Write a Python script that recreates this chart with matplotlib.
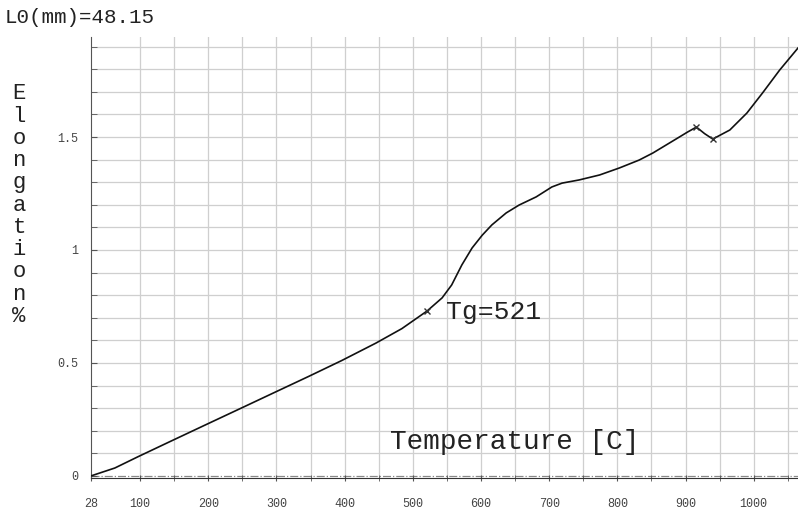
import numpy as np
import matplotlib
matplotlib.use("Agg")
import matplotlib.pyplot as plt

plt.rcParams['font.family'] = ['Liberation Mono', 'DejaVu Sans Mono']

# dilatometer curve
temp = [28, 63, 97, 146, 196, 249, 299, 347, 396, 446, 484, 521,
        543, 557, 572, 587, 602, 616, 637, 656, 681, 704, 719, 744, 774,
        803, 832, 852, 891, 903, 916, 928, 940, 965, 990, 1013, 1038, 1065]
elong = [0.0, 0.035, 0.085, 0.155, 0.226, 0.301, 0.372, 0.440, 0.511, 0.588, 0.652, 0.730,
         0.788, 0.845, 0.934, 1.009, 1.066, 1.111, 1.164, 1.199, 1.235, 1.279, 1.296, 1.310, 1.332,
         1.363, 1.398, 1.429, 1.500, 1.522, 1.544, 1.515, 1.491, 1.531, 1.606, 1.695, 1.796, 1.894]

# marked points
mark_t = [521, 916, 940]
mark_e = [0.73, 1.544, 1.491]

xticks = [28, 100, 200, 300, 400, 500, 600, 700, 800, 900, 1000]
yticks = [0, 0.5, 1, 1.5]
ytick_labels = ["0", "0.5", "1", "1.5"]

fig = plt.figure(figsize=(7.98, 5.09), dpi=100)
ax = fig.add_axes([0.114, 0.061, 0.886, 0.866])

ax.set_xlim(28, 1065)
ax.set_ylim(-0.009, 1.942)

# grid
for gx in np.arange(100, 1065, 50):
    ax.axvline(gx, color="#cfcfcf", lw=0.9, zorder=0)
for gy in np.arange(0.1, 1.95, 0.1):
    ax.axhline(gy, color="#cfcfcf", lw=0.9, zorder=0)

ax.axhline(0.0, color="#888888", lw=0.9, ls="-.", zorder=1)

ax.plot(temp, elong, color="#111111", lw=1.2, zorder=3)
ax.plot(mark_t, mark_e, ls="none", marker="x", ms=4, mew=1.0, color="#333333", zorder=4)

for s in ["top", "right"]:
    ax.spines[s].set_visible(False)
ax.spines["left"].set_color("#555555")
ax.spines["bottom"].set_color("#333333")

ax.set_xticks(xticks)
ax.set_xticks(np.arange(150, 1065, 100), minor=True)
ax.tick_params(axis="x", which="both", direction="inout", length=5, color="#555555",
               labelsize=8.5, labelcolor="#444444", pad=12)

ax.set_yticks(yticks)
ax.set_yticklabels(ytick_labels)
ax.set_yticks(np.arange(0.1, 1.95, 0.1), minor=True)
ax.tick_params(axis="y", which="both", direction="in", length=4, color="#555555",
               labelsize=8.5, labelcolor="#444444", pad=9)

ax.text(548, 0.726, "Tg=521", fontsize=19, va="center", ha="left", color="#222222")
ax.text(467, 0.15, "Temperature [C]", fontsize=20, va="center", ha="left", color="#222222")

fig.text(0.006, 0.965, "L0(mm)=48.15", fontsize=15, va="center", ha="left", color="#222222")
fig.text(0.024, 0.597, "\n".join("Elongation%"), fontsize=16, va="center", ha="center",
         linespacing=1.08, color="#222222")

fig.savefig("out.png", dpi=100)
